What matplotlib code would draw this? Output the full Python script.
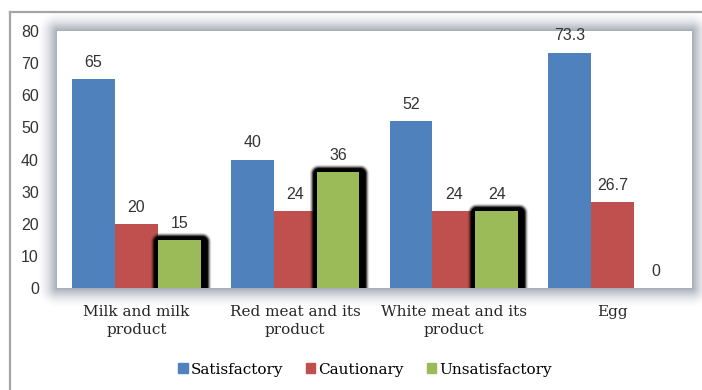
import numpy as np
import matplotlib
matplotlib.use("Agg")
import matplotlib.pyplot as plt
import matplotlib.patheffects as pe
from matplotlib.patches import Patch
from matplotlib.lines import Line2D

# Food groups and the share of samples in each quality class (%)
categories = ["Milk and milk\nproduct", "Red meat and its\nproduct",
              "White meat and its\nproduct", "Egg"]
satisfactory = [65, 40, 52, 73.3]
cautionary = [20, 24, 24, 26.7]
unsatisfactory = [15, 36, 24, 0]
series_names = ["Satisfactory", "Cautionary", "Unsatisfactory"]
colors = ["#4F81BD", "#C0504D", "#9BBB59"]
yticks = [0, 10, 20, 30, 40, 50, 60, 70, 80]

W, H = 702, 390
fig = plt.figure(figsize=(W / 100, H / 100), dpi=100)
fig.patch.set_facecolor("white")
ax = fig.add_axes([57 / W, 1 - 288 / H, 635 / W, 257 / H])
ax.set_zorder(2)

# soft grey shadow around the plot area
pos = ax.get_position()
x0, x1 = pos.x0 * W, pos.x1 * W
y0, y1 = (1 - pos.y1) * H, (1 - pos.y0) * H
xx, yy = np.meshgrid(np.arange(W) + 0.5, np.arange(H) + 0.5)
dx = np.maximum(np.maximum(x0 - xx, xx - x1), 0)
dy = np.maximum(np.maximum(y0 - yy, yy - y1), 0)
d = np.hypot(dx, dy)
shadow = np.zeros((H, W, 4))
shadow[..., 0] = 130 / 255
shadow[..., 1] = 140 / 255
shadow[..., 2] = 155 / 255
shadow[..., 3] = 0.72 * np.clip(1 - d / 20, 0, 1) ** 1.7
fig.figimage(shadow, xo=0, yo=0, origin="upper", zorder=1)

# outer chart frame (left and top edges)
frame_kw = dict(color="#a6a6a6", lw=1.6, transform=fig.transFigure, zorder=1)
fig.add_artist(Line2D([10 / W, 10 / W], [0, 1 - 12 / H], **frame_kw))
fig.add_artist(Line2D([10 / W, 1], [1 - 12 / H, 1 - 12 / H], **frame_kw))

x = np.arange(len(categories))
width = 0.27
# dark glow around the unsatisfactory bars
glow = [pe.Stroke(linewidth=lw, foreground="black", alpha=a,
                  offset=(0.7, -0.5), joinstyle="round")
        for lw, a in [(12.5, 0.12), (11, 0.25), (9.5, 0.5), (8, 0.85), (6.5, 1.0)]]
glow.append(pe.Normal())

for i, (vals, col) in enumerate(zip([satisfactory, cautionary, unsatisfactory], colors)):
    bars = ax.bar(x + (i - 1) * width, vals, width, color=col, zorder=2 + i)
    for b, v in zip(bars, vals):
        if i == 2 and v > 0:
            b.set_path_effects(glow)
        ax.annotate(f"{v:g}", (b.get_x() + b.get_width() / 2, v),
                    xytext=(0, 12), textcoords="offset points",
                    ha="center", va="center", fontsize=11.5,
                    family="Liberation Sans", color="#333333", zorder=10)

ax.set_xlim(-0.5, len(categories) - 0.5)
ax.set_ylim(0, 80)
ax.set_yticks(yticks)
ax.set_xticks(x)
ax.set_xticklabels(categories, family="DejaVu Serif", fontsize=11,
                   color="#262626", linespacing=1.35)
for lab in ax.get_yticklabels():
    lab.set_family("Liberation Sans")
    lab.set_fontsize(11.5)
    lab.set_color("#333333")
ax.tick_params(axis="y", length=0, pad=13)
ax.tick_params(axis="x", length=0, pad=12)
for s in ax.spines.values():
    s.set_visible(False)

handles = [Patch(color=c) for c in colors]
fig.legend(handles, series_names, loc="center", bbox_to_anchor=(0.52, 0.052),
           ncol=3, frameon=False, handlelength=0.6, handleheight=0.6,
           handletextpad=0.2, columnspacing=1.5,
           prop=dict(family="DejaVu Serif", size=11))

fig.savefig("out.png", dpi=100)
